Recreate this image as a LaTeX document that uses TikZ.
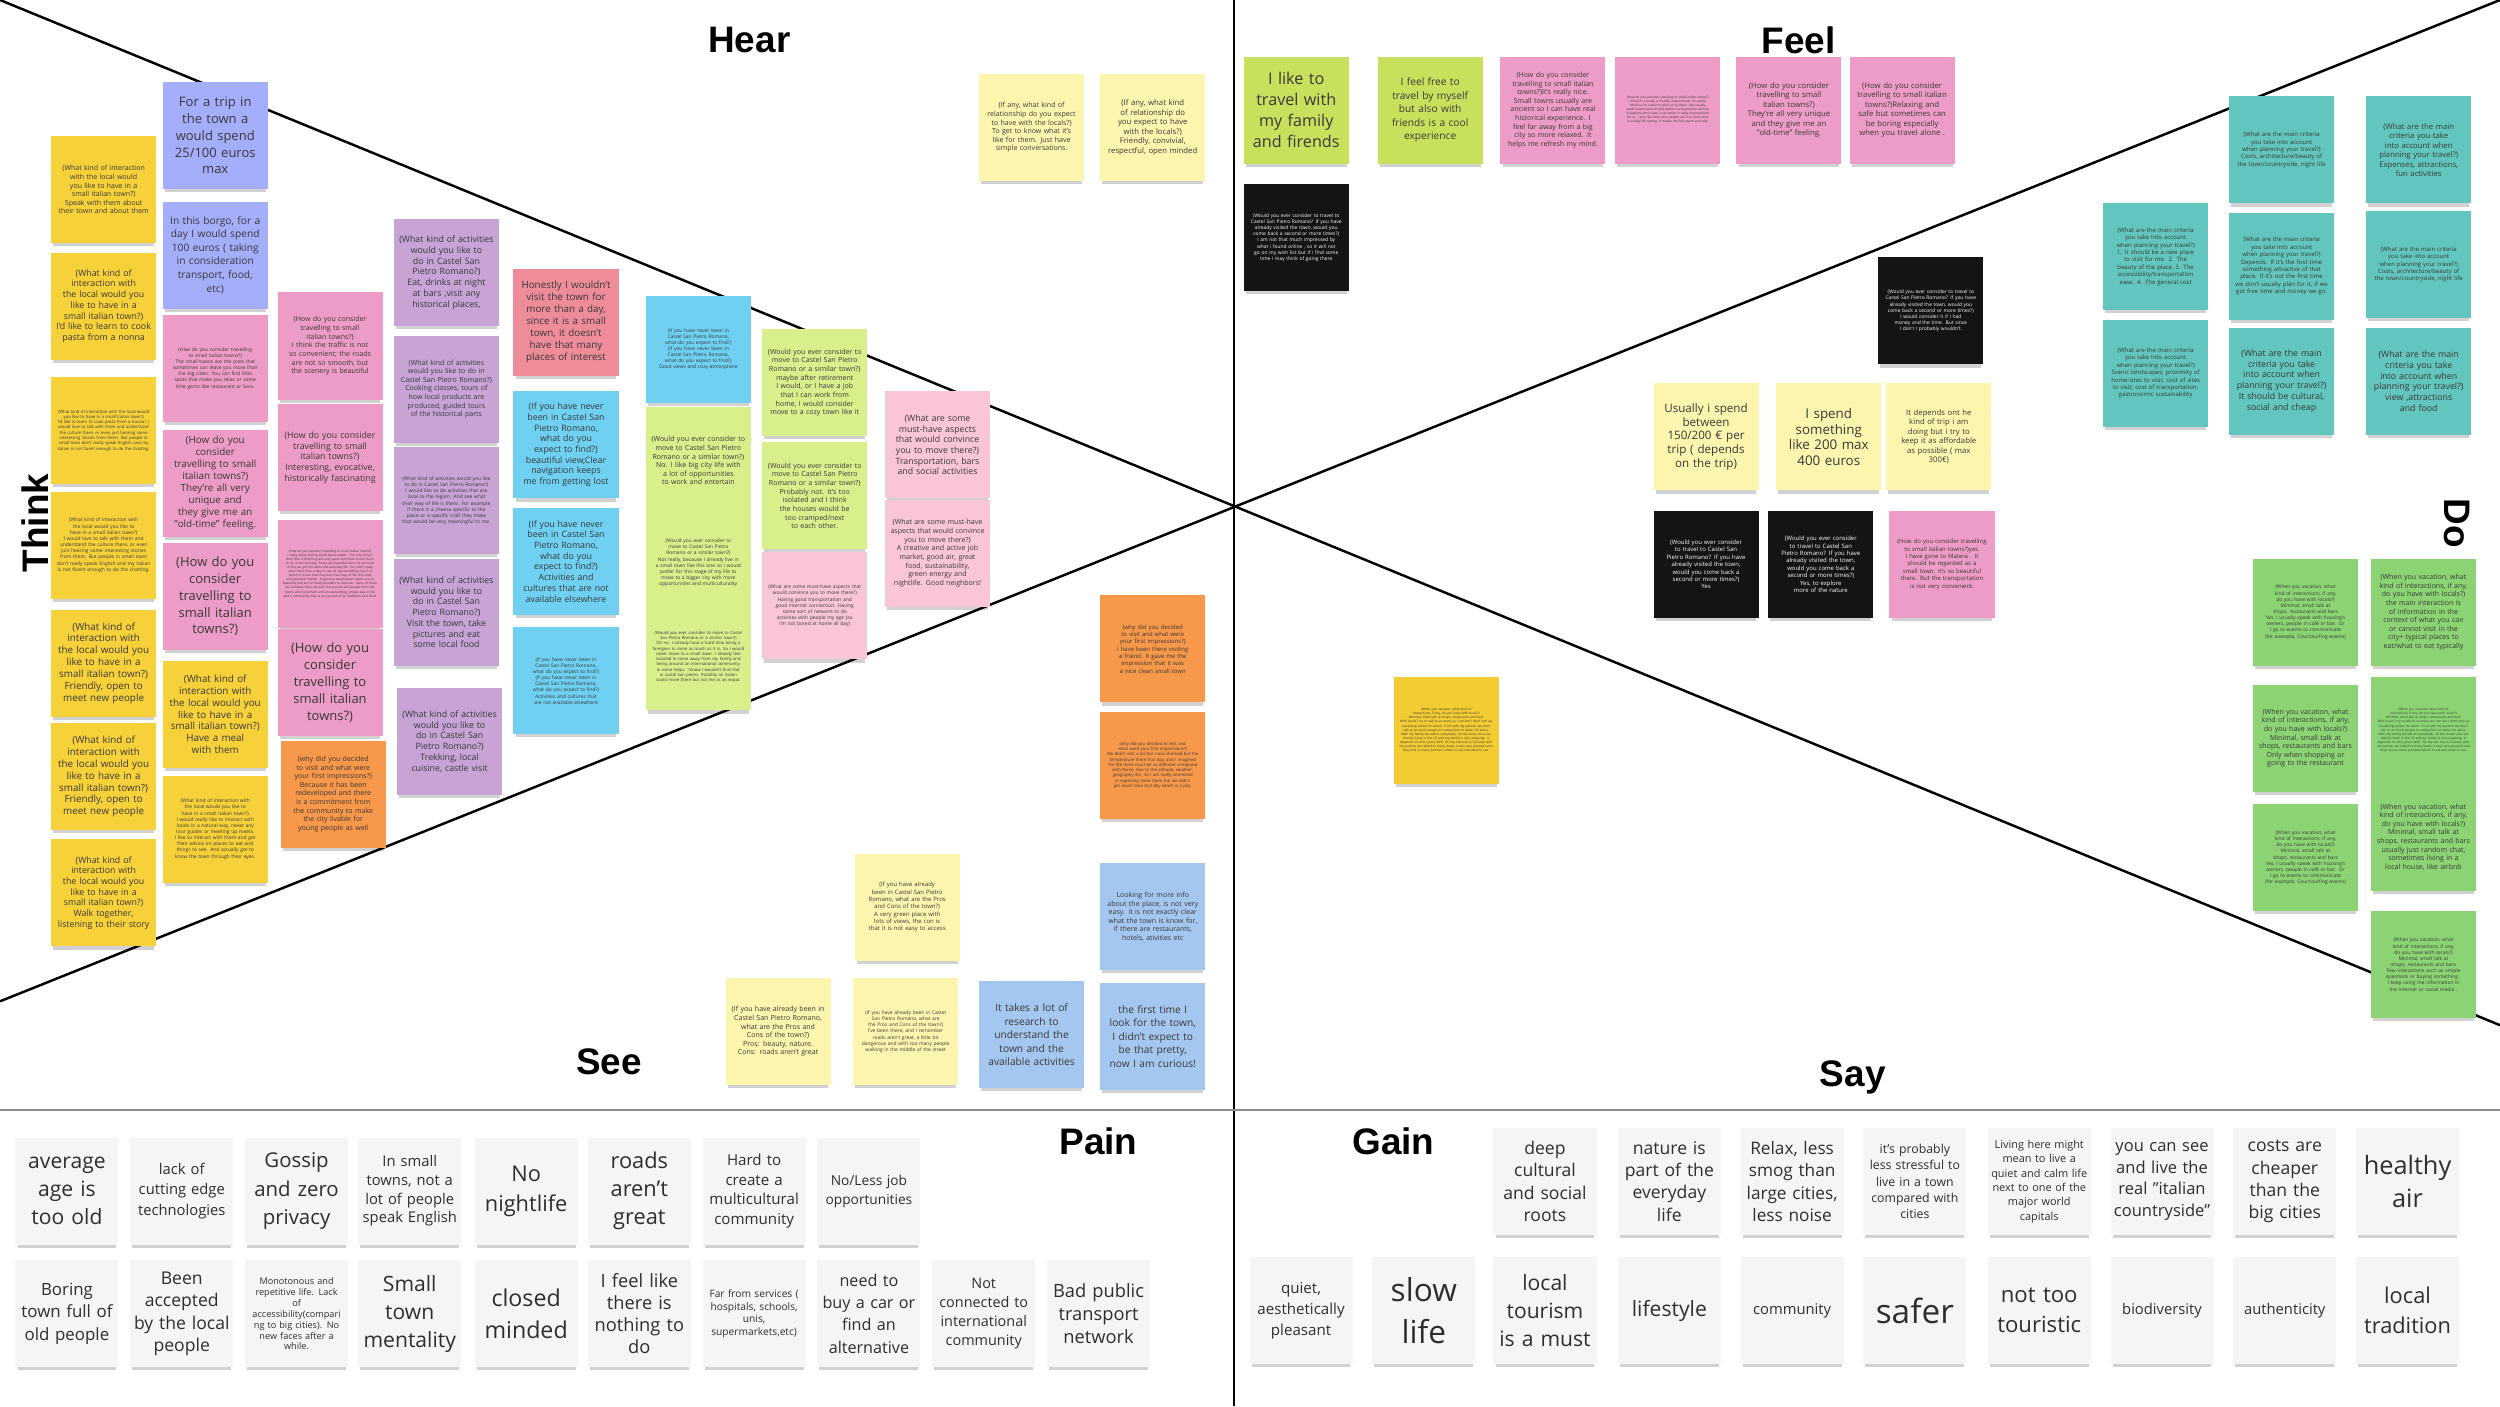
\documentclass[tikz,border=0pt]{standalone}
\usepackage{fontspec}
\setmainfont{Open Sans}
\newfontfamily\headfont{Liberation Sans}
\usepackage{tikz}
\usetikzlibrary{shadows}
\definecolor{yelnote}{HTML}{F6D13A}
\definecolor{perinote}{HTML}{A4AEFA}
\definecolor{pinknote}{HTML}{EC9CC6}
\definecolor{purpnote}{HTML}{C7A3D6}
\definecolor{salnote}{HTML}{EE8C9A}
\definecolor{cyannote}{HTML}{6FD0F2}
\definecolor{limenote}{HTML}{D8F08C}
\definecolor{lpinknote}{HTML}{F9C5D7}
\definecolor{orgnote}{HTML}{F8984A}
\definecolor{lyelnote}{HTML}{FCF5AE}
\definecolor{bluenote}{HTML}{A4C7F0}
\definecolor{flimenote}{HTML}{C8E15C}
\definecolor{blknote}{HTML}{141414}
\definecolor{tealnote}{HTML}{62C6BE}
\definecolor{grnnote}{HTML}{8BD373}
\definecolor{sayyel}{HTML}{F3CB33}
\definecolor{cardgray}{HTML}{F4F5F6}
\hyphenpenalty=10000
\exhyphenpenalty=10000

\begin{document}
\begin{tikzpicture}[x=0.1594mm, y=-0.1594mm,
    every node/.style={font=\fontsize{2}{2.5}\selectfont},
    note/.style={rectangle, minimum width=10.5mm, minimum height=10.7mm,
                 text width=27pt, align=center, inner sep=0pt, text=black!78,
                 drop shadow={shadow xshift=0mm, shadow yshift=-0.55mm,
                              opacity=0.18, fill=black, shadow scale=0.96}},
    card/.style={note, fill=cardgray, minimum width=10.3mm, text width=29pt, text=black!82},
    dark/.style={note, fill=blknote, text=white},
    head/.style={font=\headfont\bfseries\fontsize{10.5}{12}\selectfont},
    f46/.style={font=\fontsize{4.6}{6}\selectfont},
    f38/.style={font=\fontsize{3.8}{4.4}\selectfont},
    f37/.style={font=\fontsize{3.7}{4.8}\selectfont},
    f33/.style={font=\fontsize{3.3}{3.9}\selectfont},
    f29/.style={font=\fontsize{2.9}{3.85}\selectfont},
    f28/.style={font=\fontsize{2.8}{3.4}\selectfont},
    f25/.style={font=\fontsize{2.5}{3.05}\selectfont},
    f22/.style={font=\fontsize{2.2}{2.7}\selectfont},
    f20/.style={font=\fontsize{2.0}{2.45}\selectfont},
    f17/.style={font=\fontsize{1.7}{2.1}\selectfont},
    f14/.style={font=\fontsize{1.4}{1.75}\selectfont},
    f12/.style={font=\fontsize{1.2}{1.5}\selectfont},
    f09/.style={font=\fontsize{0.9}{1.15}\selectfont}
]
\useasboundingbox (0,0) rectangle (1568,882);

% --- quadrant lines ---
\coordinate (tl) at (0,0);
\coordinate (br) at (1568,643);
\coordinate (bl) at (0,628);
\coordinate (tr) at (1568,0);
\coordinate (vtop) at (774,0);
\coordinate (vbot) at (774,882);
\coordinate (hl) at (0,696);
\coordinate (hr) at (1568,696);
\draw[line width=0.7pt] (tl) -- (br);
\draw[line width=0.7pt] (bl) -- (tr);
\draw[line width=0.5pt] (vtop) -- (vbot);
\draw[line width=0.5pt, black!45] (hl) -- (hr);

% --- quadrant titles ---
\node[head] (hear) at (470,25) {Hear};
\node[head] (feel) at (1128,25) {Feel};
\node[head, rotate=90] (think) at (22,328) {Think};
\node[head, rotate=-90] (do) at (1541,328) {Do};
\node[head] (see) at (382,666) {See};
\node[head] (say) at (1162,676) {Say};
\node[head] (pain) at (689,716) {Pain};
\node[head] (gain) at (874,716) {Gain};

% --- Think: column A (interaction with locals) ---
\node[note, fill=yelnote, f20] (ka1) at (65,119) {(What kind of interaction with the local would you like to have in a small italian town?)\\ Speak with them about their town and about them};
\node[note, fill=yelnote, f25] (ka2) at (65,192) {(What kind of interaction with the local would you like to have in a small italian town?)\\ I'd like to learn to cook pasta from a nonna};
\node[note, fill=yelnote, f12] (ka3) at (65,270) {(What kind of interaction with the local would you like to have in a small italian town?)\\ I'd like to learn to cook pasta from a nonna! I would love to talk with them and understand the culture there, or even just hearing some interesting stories from them. But people in small town don't really speak English and my italian is not fluent enough to do the chatting.};
\node[note, fill=yelnote, f14] (ka4) at (65,342) {(What kind of interaction with the local would you like to have in a small italian town?)\\ I would love to talk with them and understand the culture there, or even just hearing some interesting stories from them. But people in small town don't really speak English and my italian is not fluent enough to do the chatting.};
\node[note, fill=yelnote, f28] (ka5) at (65,416) {(What kind of interaction with the local would you like to have in a small italian town?)\\ Friendly, open to meet new people};
\node[note, fill=yelnote, f28] (ka6) at (65,487) {(What kind of interaction with the local would you like to have in a small italian town?)\\ Friendly, open to meet new people};
\node[note, fill=yelnote, f25] (ka7) at (65,560) {(What kind of interaction with the local would you like to have in a small italian town?)\\ Walk together, listening to their story};

% --- Think: column B ---
\node[note, fill=perinote, f37] (kb1) at (135,85) {For a trip in\\the town a\\would spend\\25/100 euros\\max};
\node[note, fill=perinote, f29] (kb2) at (135,160) {In this borgo, for a\\day I would spend\\100 euros ( taking\\in consideration\\transport, food,\\etc)};
\node[note, fill=pinknote, f14] (kb3) at (135,231) {(How do you consider travelling to small italian towns?)\\ The small towns are the ones that sometimes can leave you more than the big cities. You can find little spots that make you relax or some little gems like restaurant or bars.};
\node[note, fill=pinknote, f28] (kb4) at (135,303) {(How do you consider travelling to small italian towns?)\\ They're all very unique and they give me an "old-time" feeling.};
\node[note, fill=pinknote, f37] (kb5) at (135,374) {(How do you\\consider\\travelling to\\small italian\\towns?)};
\node[note, fill=yelnote, f28] (kb6) at (135,448) {(What kind of interaction with the local would you like to have in a small italian town?)\\ Have a meal with them};
\node[note, fill=yelnote, f14] (kb7) at (135,520) {(What kind of interaction with the local would you like to have in a small italian town?)\\ I would really like to interact with locals in a natural way, never any tour guides or meeting up meets. I like to interact with them and get their advice on places to eat and things to see. And actually get to know the town through their eyes.};

% --- Think: column C ---
\node[note, fill=pinknote, f20] (kc1) at (207,217) {(How do you consider travelling to small italian towns?)\\ I think the traffic is not so convenient; the roads are not so smooth, but the scenery is beautiful};
\node[note, fill=pinknote, f25] (kc2) at (207,287) {(How do you consider travelling to small italian towns?)\\ Interesting, evocative, historically fascinating};
\node[note, fill=pinknote, f09] (kc3) at (207,360) {(How do you consider travelling to small italian towns?)\\ I really enjoy visiting small italian towns. The only thing I don't like is that they are very quiet and there is not much to do in the evening. Some are beautiful but a lot are kind of like we got the same old everyday life. You don't really need more than a day or two to see everything, but it is worth it to see how they live, their way of life, the slow and peaceful rhythm. In general small italian towns are so beautiful and are so many wonders to discover. Many of them are isolated, have old and nice people and people from the towns who love them and are welcoming, simple way of life and a community that is very proud of its traditions and food.};
\node[note, fill=pinknote, f37] (kc4) at (207,428) {(How do you\\consider\\travelling to\\small italian\\towns?)};
\node[note, fill=orgnote, f20] (kc5) at (209,498) {(why did you decided to visit and what were your first impressions?)\\ Because it has been redeveloped and there is a commitment from the community to make the city livable for young people as well};

% --- Think: column D (activities) ---
\node[note, fill=purpnote, f25] (kd1) at (280,171) {(What kind of activities would you like to do in Castel San Pietro Romano?)\\ Eat, drinks at night at bars ,visit any historical places,};
\node[note, fill=purpnote, f20] (kd2) at (280,244) {(What kind of activities would you like to do in Castel San Pietro Romano?)\\ Cooking classes, tours of how local products are produced, guided tours of the historical parts};
\node[note, fill=purpnote, f14] (kd3) at (280,314) {(What kind of activities would you like to do in Castel San Pietro Romano?)\\ I would like to do activities that are local to the region. And see what their way of life is there. For example if there is a cheese specific to the place or a specific craft they make that would be very meaningful to me.};
\node[note, fill=purpnote, f25] (kd4) at (280,384) {(What kind of activities would you like to do in Castel San Pietro Romano?)\\ Visit the town, take pictures and eat some local food};
\node[note, fill=purpnote, f25] (kd5) at (282,465) {(What kind of activities would you like to do in Castel San Pietro Romano?)\\ Trekking, local cuisine, castle visit};

% --- Think: column E ---
\node[note, fill=salnote, f28] (ke1) at (355,202) {Honestly I wouldn't visit the town for more than a day, since it is a small town, it doesn't have that many places of interest};
\node[note, fill=cyannote, f25] (ke2) at (355,279) {(If you have never been in Castel San Pietro Romano, what do you expect to find?)\\ beautiful view,Clear navigation keeps me from getting lost};
\node[note, fill=cyannote, f25] (ke3) at (355,352) {(If you have never been in Castel San Pietro Romano, what do you expect to find?)\\ Activities and cultures that are not available elsewhere};
\node[note, fill=cyannote, f14] (ke4) at (355,427) {(If you have never been in Castel San Pietro Romano, what do you expect to find?)\\ (If you have never been in Castel San Pietro Romano, what do you expect to find?)\\ Activities and cultures that are not available elsewhere};

% --- Think: column F ---
\node[note, fill=cyannote, f14] (kf1) at (438,219) {(If you have never been in Castel San Pietro Romano, what do you expect to find?)\\ (If you have never been in Castel San Pietro Romano, what do you expect to find?)\\ Good views and cozy atmosphere};
\node[note, fill=limenote, f20] (kf2) at (438,289) {(Would you ever consider to move to Castel San Pietro Romano or a similar town?)\\ No. I like big city life with a lot of opportunities to work and entertain};
\node[note, fill=limenote, f14] (kf3) at (438,353) {(Would you ever consider to move to Castel San Pietro Romano or a similar town?)\\ Not really, because I already live in a small town like this one so I would prefer for this stage of my life to move to a bigger city with more opportunities and multiculturality};
\node[note, fill=limenote, f12] (kf4) at (438,412) {(Would you ever consider to move to Castel San Pietro Romano or a similar town?)\\ Oh no. I already have a hard time being a foreigner in rome as much as it is. So I would never move to a small town. I already feel isolated in rome away from my family and being around an international community in rome helps. I know I wouldn't find that in castel San pietro. Possibly an italian could move there but not me as an expat.};

% --- Think: column G ---
\node[note, fill=limenote, f20] (kg1) at (511,240) {(Would you ever consider to move to Castel San Pietro Romano or a similar town?)\\ maybe after retirement I would, or I have a job that I can work from home, I would consider move to a cozy town like it};
\node[note, fill=limenote, f20] (kg2) at (511,311) {(Would you ever consider to move to Castel San Pietro Romano or a similar town?)\\ Probably not. It's too isolated and I think the houses would be too cramped/next to each other.};
\node[note, fill=lpinknote, f14] (kg3) at (511,380) {(What are some must-have aspects that would convince you to move there?)\\ Having good transportation and good internet connection. Having some sort of network to do activities with people my age (so I'm not bored at home all day)};

% --- Think: column H ---
\node[note, fill=lpinknote, f25] (kh1) at (588,279) {(What are some must-have aspects that would convince you to move there?)\\ Transportation, bars and social activities};
\node[note, fill=lpinknote, f20] (kh2) at (588,347) {(What are some must-have aspects that would convince you to move there?)\\ A creative and active job market, good air, great food, sustainability, green energy and nightlife. Good neighbors!};

% --- Hear ---
\node[note, fill=lyelnote, f20] (h1) at (647,80) {(If any, what kind of relationship do you expect to have with the locals?)\\ To get to know what it's like for them. Just have simple conversations.};
\node[note, fill=lyelnote, f22] (h2) at (723,80) {(If any, what kind of relationship do you expect to have with the locals?)\\ Friendly, convivial, respectful, open minded};

% --- See ---
\node[note, fill=orgnote, f17] (s1) at (723,407) {(why did you decided to visit and what were your first impressions?)\\ I have been there visiting a friend. It gave me the impression that it was a nice clean small town};
\node[note, fill=orgnote, f12] (s2) at (723,480) {(why did you decided to visit and what were your first impressions?)\\ We didn't visit a lot but I was shocked but the temperature there that day, and I imagined the life there must be so different compared with Rome, due to the altitude, weather, geography etc. So I am really interested in exploring more there but we didn't get much time that day which is a pity.};
\node[note, fill=lyelnote, f17] (s3) at (569,569) {(If you have already been in Castel San Pietro Romano, what are the Pros and Cons of the town?)\\ A very green place with lots of views, the con is that it is not easy to access};
\node[note, fill=lyelnote, f20] (s4) at (488,647) {(If you have already been in Castel San Pietro Romano, what are the Pros and Cons of the town?)\\ Pros: beauty, nature.\\ Cons: roads aren't great};
\node[note, fill=lyelnote, f14] (s5) at (568,647) {(If you have already been in Castel San Pietro Romano, what are the Pros and Cons of the town?)\\ I've been there, and I remember roads aren't great, a little bit dangerous and with too many people walking in the middle of the street};
\node[note, fill=bluenote, f29] (s6) at (647,649) {It takes a lot of\\research to\\understand the\\town and the\\available activities};
\node[note, fill=bluenote, f20] (s7) at (723,575) {Looking for more info about the place, is not very easy. it is not exactly clear what the town is know for, if there are restaurants, hotels, ativities etc};
\node[note, fill=bluenote, f29] (s8) at (723,650) {the first time I\\look for the town,\\I didn't expect to\\be that pretty,\\now I am curious!};

% --- Feel ---
\node[note, fill=flimenote, f46] (f1) at (813,69) {I like to\\travel with\\my family\\and firends};
\node[note, fill=flimenote, f29] (f2) at (897,69) {I feel free to\\travel by myself\\but also with\\friends is a cool\\experience};
\node[note, fill=pinknote, f20] (f3) at (974,69) {(How do you consider travelling to small italian towns?)It's really nice. Small towns usually are ancient so I can have real historical experience. I feel far away from a big city so more relaxed. It helps me refresh my mind.};
\node[note, fill=pinknote, f09] (f4) at (1046,69) {(How do you consider traveling to small italian towns?)\\ I think it's usually a friendly environment. It's pretty small so it's easier to plan a trip there. But usually small towns have terrible public transportation and we foreigners don't have a car which is really inconvenient for us. I also like how close people are in a small town in a daily life setting. It makes me feel warm and safe.};
\node[note, fill=pinknote, f22] (f5) at (1122,69) {(How do you consider travelling to small italian towns?)\\ They're all very unique and they give me an "old-time" feeling.};
\node[note, fill=pinknote, f22] (f6) at (1193,69) {(How do you consider travelling to small italian towns?)Relaxing and safe but sometimes can be boring especially when you travel alone .};
\node[dark, f14] (f7) at (813,149) {(Would you ever consider to travel to Castel San Pietro Romano? If you have already visited the town, would you come back a second or more times?)\\ I am not that much impressed by what i found online , so it will not go on my wish list but if i find some time i may think of going there};
\node[dark, f14] (f8) at (1211,195) {(Would you ever consider to travel to Castel San Pietro Romano? If you have already visited the town, would you come back a second or more times?)\\ I would consider it if I had money and the time. But since I don't I probably wouldn't.};
\node[note, fill=lyelnote, f33] (f9) at (1070,274) {Usually i spend\\between\\150/200 € per\\trip ( depends\\on the trip)};
\node[note, fill=lyelnote, f38] (f10) at (1147,274) {I spend\\something\\like 200 max\\400 euros};
\node[note, fill=lyelnote, f22] (f11) at (1216,274) {It depends ont he\\kind of trip i am\\doing but i try to\\keep it as affordable\\as possible ( max\\300€)};
\node[dark, f17] (f12) at (1070,354) {(Would you ever consider to travel to Castel San Pietro Romano? If you have already visited the town, would you come back a second or more times?)\\ Yes};
\node[dark, f17] (f13) at (1142,354) {(Would you ever consider to travel to Castel San Pietro Romano? If you have already visited the town, would you come back a second or more times?)\\ Yes, to explore more of the nature};
\node[note, fill=pinknote, f17] (f14) at (1218,354) {(How do you consider travelling to small italian towns?)yes. I have gone to Matera . It should be regarded as a small town. It's so beautiful there. But the transportation is not very convenient.};

% --- Say ---
\node[note, fill=sayyel, f09] (y1) at (907,458) {(When you vacation, what kind of interactions, if any, do you have with locals?)\\ Minimal, small talk at shops, restaurants and bars\\ With locals I try to talk to as many as I can but I don't end up socializing unless I'm alone. If I'm with my partner we don't talk to as much people in comparison to when I'm alone. With my family we talk to everybody. All the locals since we mainly travel in the US and my family is very outgoing. It depends on who you're with. On my last trip to Tuscany with my partner we talked to many locals, it was very pleasant and they told us many pointers where to eat and what to see.};

% --- Do: planning criteria ---
\node[note, fill=tealnote, f17] (d1) at (1431,94) {(What are the main criteria you take into account when planning your travel?)\\ Costs, architecture/beauty of the town/countryside, night life};
\node[note, fill=tealnote, f22] (d2) at (1517,94) {(What are the main criteria you take into account when planning your travel?)\\ Expenses, attractions, fun activities};
\node[note, fill=tealnote, f17] (d3) at (1352,161) {(What are the main criteria you take into account when planning your travel?)\\ 1. It should be a new place to visit for me. 2. The beauty of the place, 3. The accessibility/transportation ease. 4. The general cost};
\node[note, fill=tealnote, f17] (d4) at (1431,167) {(What are the main criteria you take into account when planning your travel?)\\ Depends. If it's the first time something attractive of that place. If it's not the first time we don't usually plan for it, if we got free time and money we go.};
\node[note, fill=tealnote, f17] (d5) at (1517,166) {(What are the main criteria you take into account when planning your travel?)\\ Costs, architecture/beauty of the town/countryside, night life};
\node[note, fill=tealnote, f17] (d6) at (1352,234) {(What are the main criteria you take into account when planning your travel?)\\ Scenic landscapes; proximity of home-sites to visit; cost of sites to visit; cost of transportation; gastronomic sustainability};
\node[note, fill=tealnote, f25] (d7) at (1431,239) {(What are the main criteria you take into account when planning your travel?)\\ It should be cultural, social and cheap};
\node[note, fill=tealnote, f25] (d8) at (1517,239) {(What are the main criteria you take into account when planning your travel?)\\ view ,attractions and food};

% --- Do: interactions on vacation ---
\node[note, fill=grnnote, f14] (d9) at (1446,384) {(When you vacation, what kind of interactions, if any, do you have with locals?)\\ Minimal, small talk at shops, restaurants and bars\\ Yes, I usually speak with housing's owners, people in café or bar. Or I go to events to communicate (for example, Couchsurfing events)};
\node[note, fill=grnnote, f20] (d10) at (1520,384) {(When you vacation, what kind of interactions, if any, do you have with locals?)\\ the main interaction is of information in the context of what you can or cannot visit in the city+ typical places to eat/what to eat typically};
\node[note, fill=grnnote, f20] (d11) at (1446,463) {(When you vacation, what kind of interactions, if any, do you have with locals?)\\ Minimal, small talk at shops, restaurants and bars\\ Only when shopping or going to the restaurant};
\node[note, fill=grnnote, f09] (d12) at (1520,458) {(When you vacation, what kind of interactions, if any, do you have with locals?)\\ Minimal, small talk at shops, restaurants and bars\\ With locals I try to talk to as many as I can but I don't end up socializing unless I'm alone. If I'm with my partner we don't talk to as much people in comparison to when I'm alone. With my family we talk to everybody. All the locals since we mainly travel in the US and my family is very outgoing. It depends on who you're with. On my last trip to Tuscany with my partner we talked to many locals, it was very pleasant and they told us many pointers where to eat and what to see.};
\node[note, fill=grnnote, f14] (d13) at (1446,538) {(When you vacation, what kind of interactions, if any, do you have with locals?)\\ Minimal, small talk at shops, restaurants and bars\\ Yes, I usually speak with housing's owners, people in café or bar. Or I go to events to communicate (for example, Couchsurfing events)};
\node[note, fill=grnnote, f20] (d14) at (1520,525) {(When you vacation, what kind of interactions, if any, do you have with locals?)\\ Minimal, small talk at shops, restaurants and bars\\ usually just random chat, sometimes living in a local house, like airbnb};
\node[note, fill=grnnote, f14] (d15) at (1520,605) {(When you vacation, what kind of interactions, if any, do you have with locals?)\\ Minimal, small talk at shops, restaurants and bars\\ Few interactions such as simple questions or buying something .\\ I keep using the information in the internet or social media .};

% --- Pain: first row ---
\node[card, font=\fontsize{6.0}{8}\selectfont] (p1) at (42,747) {average\\age is\\too old};
\node[card, font=\fontsize{4.2}{5.9}\selectfont] (p2) at (114,747) {lack of\\cutting edge\\technologies};
\node[card, font=\fontsize{5.8}{8}\selectfont] (p3) at (186,747) {Gossip\\and zero\\privacy};
\node[card, font=\fontsize{4.2}{5.3}\selectfont] (p4) at (257,747) {In small\\towns, not a\\lot of people\\speak English};
\node[card, font=\fontsize{6.2}{8.5}\selectfont] (p5) at (330,747) {No\\nightlife};
\node[card, font=\fontsize{6.2}{8}\selectfont] (p6) at (401,747) {roads\\aren't\\great};
\node[card, font=\fontsize{4.3}{5.6}\selectfont] (p7) at (473,747) {Hard to\\create a\\multicultural\\community};
\node[card, font=\fontsize{3.9}{5.4}\selectfont] (p8) at (545,747) {No/Less job\\opportunities};

% --- Pain: second row ---
\node[card, font=\fontsize{4.8}{6.3}\selectfont] (p9) at (42,824) {Boring\\town full of\\old people};
\node[card, font=\fontsize{5.0}{6.3}\selectfont] (p10) at (114,824) {Been\\accepted\\by the local\\people};
\node[card, font=\fontsize{2.6}{3.1}\selectfont] (p11) at (186,824) {Monotonous and\\repetitive life. Lack\\of\\accessibility(compari\\ng to big cities). No\\new faces after a\\while.};
\node[card, font=\fontsize{6.0}{7.9}\selectfont] (p12) at (257,824) {Small\\town\\mentality};
\node[card, font=\fontsize{6.6}{9}\selectfont] (p13) at (330,824) {closed\\minded};
\node[card, font=\fontsize{5.2}{6.3}\selectfont] (p14) at (401,824) {I feel like\\there is\\nothing to\\do};
\node[card, font=\fontsize{2.9}{3.6}\selectfont] (p15) at (473,824) {Far from services (\\hospitals, schools,\\unis,\\supermarkets,etc)};
\node[card, font=\fontsize{4.6}{6.3}\selectfont] (p16) at (545,824) {need to\\buy a car or\\find an\\alternative};
\node[card, font=\fontsize{4.1}{5.4}\selectfont] (p17) at (617,824) {Not\\connected to\\international\\community};
\node[card, font=\fontsize{5.2}{6.5}\selectfont] (p18) at (689,824) {Bad public\\transport\\network};

% --- Gain: first row ---
\node[card, font=\fontsize{5.0}{6.3}\selectfont] (g1) at (969,741) {deep\\cultural\\and social\\roots};
\node[card, font=\fontsize{5.0}{6.3}\selectfont] (g2) at (1047,741) {nature is\\part of the\\everyday\\life};
\node[card, font=\fontsize{4.9}{6.3}\selectfont] (g3) at (1124,741) {Relax, less\\smog than\\large cities,\\less noise};
\node[card, font=\fontsize{3.5}{4.6}\selectfont] (g4) at (1201,741) {it's probably\\less stressful to\\live in a town\\compared with\\cities};
\node[card, font=\fontsize{3.1}{4.1}\selectfont] (g5) at (1279,741) {Living here might\\mean to live a\\quiet and calm life\\next to one of the\\major world\\capitals};
\node[card, font=\fontsize{4.7}{6.1}\selectfont] (g6) at (1356,741) {you can see\\and live the\\real "italian\\countryside"};
\node[card, font=\fontsize{5.0}{6.3}\selectfont] (g7) at (1433,741) {costs are\\cheaper\\than the\\big cities};
\node[card, font=\fontsize{7.2}{9.5}\selectfont] (g8) at (1510,741) {healthy\\air};

% --- Gain: second row ---
\node[card, font=\fontsize{4.3}{5.9}\selectfont] (g9) at (816,822) {quiet,\\aesthetically\\pleasant};
\node[card, font=\fontsize{9}{11.8}\selectfont] (g10) at (893,822) {slow\\life};
\node[card, font=\fontsize{6.0}{7.9}\selectfont] (g11) at (969,822) {local\\tourism\\is a must};
\node[card, font=\fontsize{6.0}{7}\selectfont] (g12) at (1047,822) {lifestyle};
\node[card, font=\fontsize{4.2}{5}\selectfont] (g13) at (1124,822) {community};
\node[card, font=\fontsize{9.5}{11}\selectfont] (g14) at (1201,822) {safer};
\node[card, font=\fontsize{6.3}{8.5}\selectfont] (g15) at (1279,822) {not too\\touristic};
\node[card, font=\fontsize{4.2}{5}\selectfont] (g16) at (1356,822) {biodiversity};
\node[card, font=\fontsize{4.2}{5}\selectfont] (g17) at (1433,822) {authenticity};
\node[card, font=\fontsize{6.2}{8.5}\selectfont] (g18) at (1510,822) {local\\tradition};
\end{tikzpicture}
\end{document}
